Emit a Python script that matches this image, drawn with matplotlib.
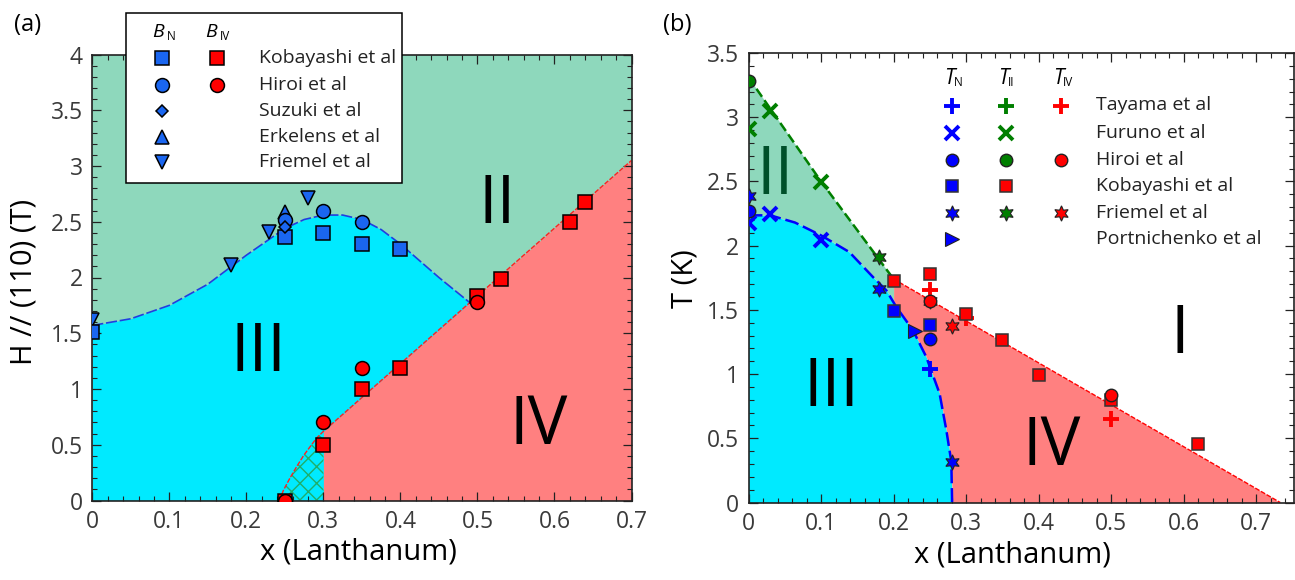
import numpy as np
import matplotlib
matplotlib.use('Agg')
import matplotlib.pyplot as plt
from matplotlib.ticker import MultipleLocator
from matplotlib.patches import Rectangle

plt.rcParams['font.family'] = ['Open Sans', 'DejaVu Sans']
plt.rcParams['lines.scale_dashes'] = False
plt.rcParams['hatch.linewidth'] = 1.0

# ---------------- Panel (a) data: critical fields ----------------
a_xticks = [0, 0.1, 0.2, 0.3, 0.4, 0.5, 0.6, 0.7]
a_xticklabels = ['0', '0.1', '0.2', '0.3', '0.4', '0.5', '0.6', '0.7']
a_yticks = [0, 0.5, 1, 1.5, 2, 2.5, 3, 3.5, 4]
a_yticklabels = ['0', '0.5', '1', '1.5', '2', '2.5', '3', '3.5', '4']

# B_N (blue)
a_kob_N_x = [0.0, 0.25, 0.30, 0.35, 0.40]
a_kob_N_H = [1.515, 2.36, 2.40, 2.30, 2.26]
a_hir_N_x = [0.25, 0.30, 0.35]
a_hir_N_H = [2.52, 2.60, 2.50]
a_suz_N_x = [0.25]
a_suz_N_H = [2.455]
a_erk_N_x = [0.25]
a_erk_N_H = [2.59]
a_fri_N_x = [0.0, 0.18, 0.23, 0.28]
a_fri_N_H = [1.62, 2.11, 2.41, 2.715]
# B_IV (red)
a_kob_IV_x = [0.25, 0.30, 0.35, 0.40, 0.50, 0.53, 0.62, 0.64]
a_kob_IV_H = [0.0, 0.50, 1.00, 1.19, 1.83, 1.99, 2.50, 2.68]
a_hir_IV_x = [0.25, 0.30, 0.35, 0.50]
a_hir_IV_H = [0.0, 0.70, 1.19, 1.78]

# phase boundaries
a_bN_x = [0.0, 0.05, 0.10, 0.15, 0.20, 0.25, 0.275, 0.30, 0.325, 0.35, 0.375, 0.40, 0.425, 0.45, 0.49]
a_bN_H = [1.57, 1.63, 1.75, 1.94, 2.20, 2.44, 2.52, 2.56, 2.56, 2.52, 2.43, 2.30, 2.15, 2.00, 1.775]
a_bIV_x = [0.243, 0.248, 0.2565, 0.265, 0.274, 0.2825, 0.2912, 0.30, 0.70]
a_bIV_H = [0.0, 0.09, 0.20, 0.30, 0.40, 0.48, 0.56, 0.62, 3.05]

# ---------------- Panel (b) data: transition temperatures ----------------
b_xticks = [0, 0.1, 0.2, 0.3, 0.4, 0.5, 0.6, 0.7]
b_xticklabels = ['0', '0.1', '0.2', '0.3', '0.4', '0.5', '0.6', '0.7']
b_yticks = [0, 0.5, 1, 1.5, 2, 2.5, 3, 3.5]
b_yticklabels = ['0', '0.5', '1', '1.5', '2', '2.5', '3', '3.5']

# Tayama (+)
b_tay_N_x, b_tay_N_T = [0.25], [1.04]
b_tay_IV_x, b_tay_IV_T = [0.25, 0.30, 0.50], [1.658, 1.44, 0.65]
# Furuno (x)
b_fur_N_x, b_fur_N_T = [0.0, 0.03, 0.10], [2.18, 2.25, 2.047]
b_fur_II_x, b_fur_II_T = [0.0, 0.03, 0.10], [2.91, 3.05, 2.495]
# Hiroi (o)
b_hir_N_x, b_hir_N_T = [0.0, 0.25], [2.27, 1.27]
b_hir_II_x, b_hir_II_T = [0.0], [3.285]
b_hir_IV_x, b_hir_IV_T = [0.25, 0.50], [1.569, 0.84]
# Kobayashi (s)
b_kob_N_x, b_kob_N_T = [0.20, 0.25], [1.49, 1.38]
b_kob_IV_x = [0.20, 0.25, 0.30, 0.35, 0.40, 0.50, 0.62]
b_kob_IV_T = [1.725, 1.777, 1.471, 1.264, 0.99, 0.80, 0.455]
# Friemel (star)
b_fri_N_x, b_fri_N_T = [0.0, 0.18, 0.28], [2.383, 1.66, 0.317]
b_fri_II_x, b_fri_II_T = [0.18, 0.25], [1.911, 1.57]
b_fri_IV_x, b_fri_IV_T = [0.28], [1.372]
# Portnichenko (>)
b_por_N_x, b_por_N_T = [0.23], [1.336]

# boundaries
b_bN_x = [0.0, 0.03, 0.064, 0.10, 0.139, 0.1715, 0.19, 0.2037, 0.2267, 0.245, 0.2634, 0.2727, 0.2796, 0.2807]
b_bN_T = [2.236, 2.236, 2.18, 2.08, 1.95, 1.756, 1.652, 1.523, 1.341, 1.134, 0.849, 0.564, 0.317, 0.0]
b_bII_x = [0.0, 0.10, 0.20]
b_bII_T = [3.31, 2.50, 1.74]
b_bI_x = [0.20, 0.733]
b_bI_T = [1.74, 0.0]

# ---------------- styles ----------------
C_GREEN_REG = '#8ed8bc'
C_CYAN = '#00eaff'
C_RED_REG = '#ff8080'
C_BLUE_A = '#1a66f0'
C_BLUE = '#0000ff'
C_GREEN = '#007f00'
C_RED = '#ff0000'

W, H = 1295, 580
fig = plt.figure(figsize=(W / 100, H / 100), dpi=100)
axA = fig.add_axes([92.3 / W, 1 - 500.5 / H, (631.5 - 92.3) / W, (500.5 - 54.5) / H])
axB = fig.add_axes([748.5 / W, 1 - 502.5 / H, (1294 - 748.5) / W, (502.5 - 53) / H])


def style(ax, xt, xtl, yt, ytl):
    ax.set_xticks(xt, xtl)
    ax.set_yticks(yt, ytl)
    ax.xaxis.set_minor_locator(MultipleLocator(0.02))
    ax.yaxis.set_minor_locator(MultipleLocator(0.1))
    ax.tick_params(which='both', direction='in', top=True, right=True,
                   colors='#222222', labelcolor='#3a3a3a', labelsize=16.5)
    ax.tick_params(which='major', length=6.5, width=0.9, pad=7)
    ax.tick_params(which='minor', length=3.6, width=0.8)
    for s in ax.spines.values():
        s.set_linewidth(1.2)
        s.set_color('#222222')


# ---------- panel (a) ----------
axA.set_facecolor(C_GREEN_REG)
axA.fill_between(a_bN_x, 0, a_bN_H, color=C_CYAN, lw=0, zorder=1)
axA.fill_between(a_bIV_x[7:], 0, a_bIV_H[7:], color=C_RED_REG, lw=0, zorder=1)
axA.fill_between(a_bIV_x[:8], 0, a_bIV_H[:8], facecolor='none', edgecolor='#1fae6a',
                 hatch='xx', lw=0, zorder=1.5)
axA.plot(a_bN_x, a_bN_H, color='#1f3fe0', lw=1.2, dashes=(8, 2), zorder=2)
axA.plot(a_bIV_x, a_bIV_H, color='#ff2020', lw=1.0, dashes=(3.5, 1.2), zorder=2)

mk = dict(ls='none', mec='black', mew=1.1, zorder=5)
axA.plot(a_erk_N_x, a_erk_N_H, marker='^', ms=9.5, mfc=C_BLUE_A, **mk)
axA.plot(a_fri_N_x, a_fri_N_H, marker='v', ms=9.5, mfc=C_BLUE_A, **mk)
axA.plot(a_hir_N_x, a_hir_N_H, marker='o', ms=10, mfc=C_BLUE_A, **mk)
axA.plot(a_kob_N_x, a_kob_N_H, marker='s', ms=9.5, mfc=C_BLUE_A, **mk)
axA.plot(a_suz_N_x, a_suz_N_H, marker='D', ms=6.5, mfc=C_BLUE_A, **mk)
axA.plot(a_kob_IV_x, a_kob_IV_H, marker='s', ms=9.5, mfc=C_RED, **mk)
axA.plot(a_hir_IV_x, a_hir_IV_H, marker='o', ms=10, mfc=C_RED, **mk)

axA.set_xlim(0, 0.7)
axA.set_ylim(0, 4)
style(axA, a_xticks, a_xticklabels, a_yticks, a_yticklabels)

reg_fs = 48
axA.text(0.216, 1.32, 'III', fontsize=reg_fs, ha='center', va='center', zorder=6)
axA.text(0.525, 2.65, 'II', fontsize=reg_fs, ha='center', va='center', zorder=6)
axA.text(0.58, 0.67, 'IV', fontsize=reg_fs, ha='center', va='center', zorder=6)

# ---------- panel (b) ----------
xs = np.linspace(0.0, 0.2, 200)
lowN = np.interp(xs, b_bN_x, b_bN_T)
upII = np.interp(xs, b_bII_x, b_bII_T)
axB.fill_between(xs, lowN, upII, color=C_GREEN_REG, lw=0, zorder=1)
axB.fill_between(b_bN_x, 0, b_bN_T, color=C_CYAN, lw=0, zorder=1)
xr = np.linspace(b_bI_x[0], b_bI_x[-1], 400)
lowR = np.where(xr < b_bN_x[-1], np.interp(xr, b_bN_x, b_bN_T), 0.0)
upR = np.interp(xr, b_bI_x, b_bI_T)
axB.fill_between(xr, lowR, upR, color=C_RED_REG, lw=0, zorder=1)

axB.plot(b_bN_x, b_bN_T, color=C_BLUE, lw=1.8, dashes=(10, 3.5), zorder=2)
axB.plot(b_bII_x, b_bII_T, color=C_GREEN, lw=1.8, dashes=(7, 3), zorder=2)
axB.plot(b_bI_x, b_bI_T, color=C_RED, lw=1.0, dashes=(3.5, 1.2), zorder=2)

star = (6, 1, 0)
sq = dict(ls='none', marker='s', ms=9, mec='#333333', mew=1.1, zorder=5)
ci = dict(ls='none', marker='o', ms=9, mec='#222222', mew=1.0, zorder=5)
st = dict(ls='none', marker=star, ms=11, mec='#222222', mew=0.8, zorder=5)
pl = dict(ls='none', marker='+', ms=12, mew=2.8, zorder=5)
xx = dict(ls='none', marker='x', ms=10.5, mew=2.8, zorder=5)

axB.plot(b_fri_II_x, b_fri_II_T, mfc=C_GREEN, **st)
axB.plot(b_fur_N_x, b_fur_N_T, color=C_BLUE, **xx)
axB.plot(b_fur_II_x, b_fur_II_T, color=C_GREEN, **xx)
axB.plot(b_hir_N_x, b_hir_N_T, mfc=C_BLUE, **ci)
axB.plot(b_hir_II_x, b_hir_II_T, mfc=C_GREEN, **ci)
axB.plot(b_kob_N_x, b_kob_N_T, mfc=C_BLUE, **sq)
axB.plot(b_tay_IV_x, b_tay_IV_T, color=C_RED, **pl)
axB.plot(b_kob_IV_x, b_kob_IV_T, mfc=C_RED, **sq)
axB.plot(b_hir_IV_x, b_hir_IV_T, mfc=C_RED, **ci)
axB.plot(b_fri_N_x, b_fri_N_T, mfc=C_BLUE, **st)
axB.plot(b_fri_IV_x, b_fri_IV_T, mfc=C_RED, **st)
axB.plot(b_por_N_x, b_por_N_T, ls='none', marker='>', ms=10, mfc=C_BLUE, mec='#222222', mew=0.8, zorder=5)
axB.plot(b_tay_N_x, b_tay_N_T, color=C_BLUE, **pl)

axB.set_xlim(0, 0.752)
axB.set_ylim(0, 3.5)
style(axB, b_xticks, b_xticklabels, b_yticks, b_yticklabels)

axB.text(0.037, 2.54, 'II', fontsize=reg_fs, color='#00502a', ha='center', va='center', zorder=6)
axB.text(0.114, 0.89, 'III', fontsize=reg_fs, ha='center', va='center', zorder=6)
axB.text(0.418, 0.43, 'IV', fontsize=reg_fs, ha='center', va='center', zorder=6)
axB.text(0.594, 1.30, 'I', fontsize=reg_fs, ha='center', va='center', zorder=6)

# ---------- overlay (pixel coordinates) for labels & legends ----------
ov = fig.add_axes([0, 0, 1, 1], zorder=10)
ov.set_xlim(0, W)
ov.set_ylim(H, 0)
ov.axis('off')
ov.patch.set_alpha(0)

ov.text(14, 25, '(a)', fontsize=17, ha='left', va='center')
ov.text(663, 25, '(b)', fontsize=17, ha='left', va='center')
ov.text(24, 282, 'H // (110) (T)', fontsize=21, rotation=90, ha='center', va='center')
ov.text(685, 279, 'T (K)', fontsize=21, rotation=90, ha='center', va='center')
ov.text(358, 552, 'x (Lanthanum)', fontsize=21, ha='center', va='center')
ov.text(1012, 555, 'x (Lanthanum)', fontsize=21, ha='center', va='center')

# legend (a)
leg_a_labels = ['Kobayashi et al', 'Hiroi et al', 'Suzuki et al', 'Erkelens et al', 'Friemel et al']
leg_a_markers = ['s', 'o', 'D', '^', 'v']
leg_a_sizes = [9.5, 10, 6.5, 9.5, 9.5]
leg_a_red = [True, True, False, False, False]
ov.add_patch(Rectangle((125.7, 13.3), 276, 169.4, fc='white', ec='black', lw=1.1, zorder=1))
rows_a = [58.3, 85, 110.7, 136.7, 162.3]
for y, lab, m, s, r in zip(rows_a, leg_a_labels, leg_a_markers, leg_a_sizes, leg_a_red):
    ov.plot([162.3], [y], marker=m, ms=s, mfc=C_BLUE_A, mec='black', mew=1.1, zorder=3)
    if r:
        ov.plot([216.7], [y], marker=m, ms=s, mfc=C_RED, mec='black', mew=1.1, zorder=3)
    ov.text(259, y, lab, fontsize=14, ha='left', va='center', color='#222222', zorder=3)
ov.text(158, 32, 'B', fontsize=14, style='italic', ha='center', va='center', zorder=3)
ov.text(166.5, 36, 'N', fontsize=8.5, ha='left', va='center', zorder=3)
ov.text(211, 32, 'B', fontsize=14, style='italic', ha='center', va='center', zorder=3)
ov.text(220, 36, 'IV', fontsize=8.5, ha='left', va='center', zorder=3)

# legend (b)
leg_b_labels = ['Tayama et al', 'Furuno et al', 'Hiroi et al', 'Kobayashi et al', 'Friemel et al', 'Portnichenko et al']
rows_b = [105.5, 132.5, 159.6, 186, 212.7, 239]
cols_b = [952, 1006, 1061]
for y, lab in zip(rows_b, leg_b_labels):
    ov.text(1096, y, lab, fontsize=14, ha='left', va='center', color='#222222')
for c, col in zip(cols_b, [C_BLUE, C_GREEN, C_RED]):
    ov.plot([c], [rows_b[0]], color=col, marker='+', ms=12, mew=2.8)
ov.plot([cols_b[0]], [rows_b[1]], color=C_BLUE, marker='x', ms=10.5, mew=2.8)
ov.plot([cols_b[1]], [rows_b[1]], color=C_GREEN, marker='x', ms=10.5, mew=2.8)
for c, col in zip(cols_b, [C_BLUE, C_GREEN, C_RED]):
    ov.plot([c], [rows_b[2]], marker='o', ms=9, mfc=col, mec='#222222', mew=1.0)
for c, col in zip(cols_b[:2], [C_BLUE, C_RED]):
    ov.plot([c], [rows_b[3]], marker='s', ms=9, mfc=col, mec='#333333', mew=1.1)
for c, col in zip(cols_b, [C_BLUE, C_GREEN, C_RED]):
    ov.plot([c], [rows_b[4]], marker=star, ms=11, mfc=col, mec='#222222', mew=0.8)
ov.plot([cols_b[0]], [rows_b[5]], marker='>', ms=10, mfc=C_BLUE, mec='#222222', mew=0.8)

for cx, sub in zip(cols_b, ['N', 'II', 'IV']):
    ov.text(cx - 3, 79, 'T', fontsize=15, style='italic', ha='center', va='center')
    ov.text(cx + 1.5, 83, sub, fontsize=8.5, ha='left', va='center')

fig.savefig('out.png', dpi=100)
